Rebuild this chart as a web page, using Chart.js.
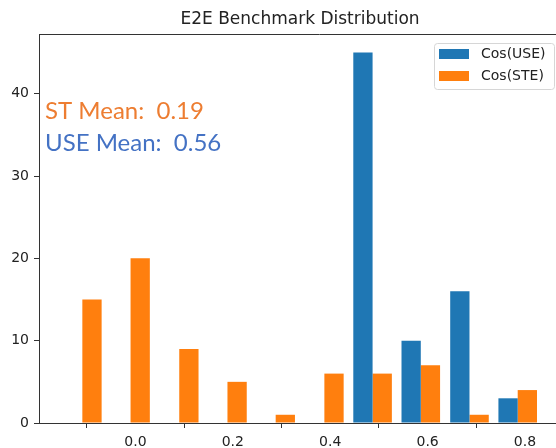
<!DOCTYPE html>
<html>
<head>
<meta charset="utf-8">
<script src="https://cdn.jsdelivr.net/npm/chart.js@4/dist/chart.umd.min.js"></script>
<style>
  html, body { margin: 0; padding: 0; background: #fff; overflow: hidden; }
  #wrap { position: relative; width: 556px; height: 448px; overflow: hidden; }
  #histChart { display: block; }
</style>
</head>
<body>
<div id="wrap"><canvas id="histChart" width="600" height="448"></canvas></div>
<script>
// --- data ---
const binCenters = [-0.109, -0.010, 0.090, 0.189, 0.288, 0.388, 0.487, 0.586, 0.686, 0.785];
const useCounts = [0, 0, 0, 0, 0, 0, 45, 10, 16, 3];
const steCounts = [15, 20, 9, 5, 1, 6, 6, 7, 1, 4];
const seriesLabels = ["Cos(USE)", "Cos(STE)"];
const xTicks = [0.0, 0.2, 0.4, 0.6, 0.8];
const yTicks = [0, 10, 20, 30, 40];
const stMean = 0.19;
const useMean = 0.56;

const BLUE = "#1f77b4";
const ORANGE = "#ff7f0e";
const AXIS = "#333333";

const toPoints = (counts) => counts.map((c, i) => ({ x: binCenters[i], y: c }));

// top spine, legend box and the two mean labels
// (the plot is cut off on the right in the original, so no right spine)
const overlayPlugin = {
    id: "overlay",
    afterDraw(chart) {
        const { ctx, chartArea } = chart;
        ctx.save();
        ctx.strokeStyle = AXIS;
        ctx.lineWidth = 1;
        ctx.beginPath();
        ctx.moveTo(chartArea.left, Math.round(chartArea.top) + 0.5);
        ctx.lineTo(chartArea.right, Math.round(chartArea.top) + 0.5);
        ctx.stroke();

        // legend
        const lx = 434, ly = 43, lw = 120, lh = 46;
        ctx.fillStyle = "rgba(255,255,255,0.8)";
        ctx.strokeStyle = "#d6d6d6";
        ctx.beginPath();
        ctx.roundRect(lx + 0.5, ly + 0.5, lw, lh, 3);
        ctx.fill();
        ctx.stroke();
        ctx.font = "14px 'DejaVu Sans'";
        ctx.textBaseline = "middle";
        ctx.textAlign = "left";
        chart.data.datasets.forEach((ds, i) => {
            const rowY = ly + 6 + i * 22;
            ctx.fillStyle = ds.backgroundColor;
            ctx.fillRect(lx + 5, rowY, 30, 10);
            ctx.fillStyle = "#222";
            ctx.fillText(ds.label, lx + 47, rowY + 5);
        });

        // mean annotations
        ctx.font = "24px Lato";
        ctx.textBaseline = "alphabetic";
        ctx.fillStyle = "#ed7d31";
        ctx.fillText("ST Mean:  " + stMean.toFixed(2), 45, 119);
        ctx.fillStyle = "#4472c4";
        ctx.fillText("USE Mean:  " + useMean.toFixed(2), 45, 151);
        ctx.restore();
    }
};

new Chart(document.getElementById("histChart"), {
    type: "bar",
    data: {
        datasets: [
            {
                label: seriesLabels[0],
                data: toPoints(useCounts),
                backgroundColor: BLUE,
                borderWidth: 0,
            },
            {
                label: seriesLabels[1],
                data: toPoints(steCounts),
                backgroundColor: ORANGE,
                borderWidth: 0,
            },
        ],
    },
    options: {
        responsive: false,
        animation: false,
        events: [],
        layout: { padding: 0 },
        datasets: { bar: { categoryPercentage: 0.8, barPercentage: 1.0, grouped: true } },
        plugins: {
            legend: { display: false },
            tooltip: { enabled: false },
            title: {
                display: true,
                text: "E2E Benchmark Distribution",
                color: "#222",
                font: { family: "'DejaVu Sans'", size: 17, weight: "normal" },
                padding: { top: 9, bottom: 4.6 },
            },
        },
        scales: {
            x: {
                type: "linear",
                min: -0.198,
                max: 0.954,
                offset: false,
                afterBuildTicks: (scale) => { scale.ticks = xTicks.map(v => ({ value: v })); },
                afterFit: (scale) => { scale.height = 25; },
                ticks: {
                    color: "#222",
                    font: { family: "'DejaVu Sans'", size: 14 },
                    padding: 6,
                    maxRotation: 0,
                    callback: (v) => Number(v).toFixed(1),
                },
                grid: { drawOnChartArea: false, drawTicks: true, tickLength: 5, tickColor: AXIS, tickWidth: 1 },
                border: { display: true, color: AXIS, width: 1 },
            },
            y: {
                min: 0,
                max: 47.25,
                afterBuildTicks: (scale) => { scale.ticks = yTicks.map(v => ({ value: v })); },
                afterFit: (scale) => { scale.width = 39; },
                ticks: {
                    color: "#222",
                    font: { family: "'DejaVu Sans'", size: 14 },
                    padding: 5,
                },
                grid: { drawOnChartArea: false, drawTicks: true, tickLength: 5, tickColor: AXIS, tickWidth: 1 },
                border: { display: true, color: AXIS, width: 1 },
            },
        },
    },
    plugins: [overlayPlugin],
});
</script>
</body>
</html>
